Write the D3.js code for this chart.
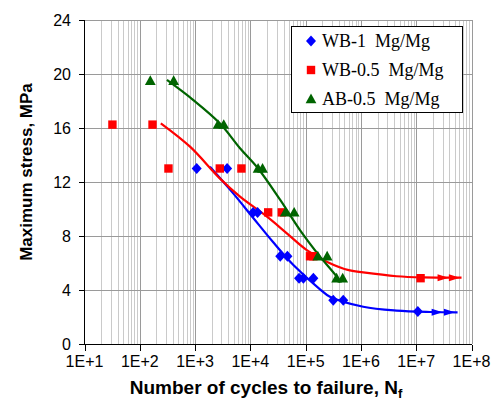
<!DOCTYPE html>
<html>
<head>
<meta charset="utf-8">
<script src="https://cdn.jsdelivr.net/npm/d3@7"></script>
<style>
  html, body { margin: 0; padding: 0; background: #fff; }
  svg { display: block; }
  .tick-label { font-family: "Liberation Sans", Arial, sans-serif; font-size: 16px; fill: #000; }
  .axis-title { font-family: "Liberation Sans", Arial, sans-serif; font-size: 17px; font-weight: bold; fill: #000; }
  .legend-text { font-family: "Liberation Serif", "Times New Roman", serif; font-size: 18px; fill: #000; white-space: pre; }
</style>
</head>
<body>
<svg id="chart" width="499" height="409"></svg>
<script>
(function () {
  'use strict';

  /* ──────────────────────────────────────────────────────────────
   * DONNÉES
   * ────────────────────────────────────────────────────────────── */
  var xTicks = [1e1, 1e2, 1e3, 1e4, 1e5, 1e6, 1e7, 1e8];
  var xTickLabels = ['1E+1', '1E+2', '1E+3', '1E+4', '1E+5', '1E+6', '1E+7', '1E+8'];
  var yTicks = [0, 4, 8, 12, 16, 20, 24];

  var seriesNames = ['WB-1  Mg/Mg', 'WB-0.5  Mg/Mg', 'AB-0.5  Mg/Mg'];

  // WB-1 (losanges bleus)
  var wb1N = [1.07e3, 3.8e3, 1.12e4, 1.35e4, 3.47e4, 4.68e4, 7.6e4, 9.1e4, 1.38e5, 3.16e5, 4.79e5, 1.07e7];
  var wb1S = [13, 13, 9.75, 9.75, 6.5, 6.5, 4.875, 4.875, 4.875, 3.25, 3.25, 2.4];

  // WB-0.5 (carrés rouges)
  var wb05N = [3.2e1, 1.7e2, 3.3e2, 2.8e3, 6.9e3, 2.1e4, 3.7e4, 1.2e5, 1.38e5, 1.2e7];
  var wb05S = [16.25, 16.25, 13, 13, 13, 9.75, 9.75, 6.5, 6.5, 4.875];

  // AB-0.5 (triangles verts)
  var ab05N = [1.55e2, 4.1e2, 2.6e3, 3.3e3, 1.38e4, 1.66e4, 4.27e4, 6.2e4, 1.66e5, 2.45e5, 3.63e5, 4.68e5];
  var ab05S = [19.5, 19.5, 16.25, 16.25, 13, 13, 9.75, 9.75, 6.5, 6.5, 4.875, 4.875];

  // Courbes de tendance
  var wb1FitN = [1.86e3, 4.9e3, 1.12e4, 2.57e4, 6.0e4, 1.82e5, 2.75e5, 1.1e6, 4.4e6, 1.78e7, 5.6e7];
  var wb1FitS = [13.13, 11.16, 9.35, 7.55, 5.85, 4.05, 3.5, 2.76, 2.47, 2.37, 2.35];

  var wb05FitN = [2.4e2, 8.1e2, 2.8e3, 6.5e3, 2.0e4, 4.57e4, 1.05e5, 2.4e5, 6.3e5, 1.1e6, 4.4e6, 1.32e7, 6.6e7];
  var wb05FitS = [16.35, 14.62, 12.27, 10.91, 9.43, 8.2, 6.96, 6.1, 5.45, 5.3, 5.02, 4.93, 4.91];

  var ab05FitN = [3.1e2, 9.3e2, 2.8e3, 6.5e3, 1.38e4, 3.47e4, 7.9e4, 1.82e5, 3.63e5, 4.17e5];
  var ab05FitS = [19.56, 18.07, 16.35, 14.5, 13.0, 10.67, 8.44, 6.47, 4.99, 4.55];

  // Flèches "run-out"
  var wb1ArrowN = [2.34e7, 3.9e7];
  var wb05ArrowN = [3.0e7, 4.8e7];

  var colors = ['#0000ff', '#ff0000', '#006400'];

  /* ──────────────────────────────────────────────────────────────
   * ÉCHELLES
   * ────────────────────────────────────────────────────────────── */
  var svg = d3.select('#chart');
  var x = d3.scaleLog().domain([1e1, 1e8]).range([84.5, 471.5]);
  var y = d3.scaleLinear().domain([0, 24]).range([344, 20]);

  function zip(a, b) {
    return a.map(function (v, i) { return [v, b[i]]; });
  }

  /* ──────────────────────────────────────────────────────────────
   * GRILLE
   * ────────────────────────────────────────────────────────────── */
  var minor = [];
  for (var d = 1; d < 8; d++) {
    for (var k = 2; k <= 9; k++) minor.push(k * Math.pow(10, d));
  }
  var grid = svg.append('g').attr('shape-rendering', 'crispEdges');
  grid.selectAll('line.minor').data(minor).enter().append('line')
    .attr('class', 'minor')
    .attr('x1', function (v) { return Math.round(x(v)) + 0.5; })
    .attr('x2', function (v) { return Math.round(x(v)) + 0.5; })
    .attr('y1', y(24)).attr('y2', y(0))
    .attr('stroke', '#cacaca').attr('stroke-width', 1);
  grid.selectAll('line.vmajor').data(xTicks.slice(1)).enter().append('line')
    .attr('class', 'vmajor')
    .attr('x1', function (v) { return Math.round(x(v)) + 0.5; })
    .attr('x2', function (v) { return Math.round(x(v)) + 0.5; })
    .attr('y1', y(24)).attr('y2', y(0))
    .attr('stroke', '#9a9a9a').attr('stroke-width', 1);
  grid.selectAll('line.hmajor').data(yTicks.slice(1)).enter().append('line')
    .attr('class', 'hmajor')
    .attr('x1', x(1e1)).attr('x2', x(1e8))
    .attr('y1', function (v) { return Math.round(y(v)) + 0.5; })
    .attr('y2', function (v) { return Math.round(y(v)) + 0.5; })
    .attr('stroke', '#9a9a9a').attr('stroke-width', 1);

  /* ──────────────────────────────────────────────────────────────
   * AXES
   * ────────────────────────────────────────────────────────────── */
  var axes = svg.append('g').attr('shape-rendering', 'crispEdges');
  axes.append('line')
    .attr('x1', 84.5).attr('x2', 84.5).attr('y1', y(24)).attr('y2', y(0) + 0.5)
    .attr('stroke', '#000');
  axes.append('line')
    .attr('x1', 84).attr('x2', x(1e8)).attr('y1', 344.5).attr('y2', 344.5)
    .attr('stroke', '#000');
  axes.selectAll('line.ytick').data(yTicks).enter().append('line')
    .attr('x1', 79).attr('x2', 84.5)
    .attr('y1', function (v) { return Math.round(y(v)) + 0.5; })
    .attr('y2', function (v) { return Math.round(y(v)) + 0.5; })
    .attr('stroke', '#000');
  axes.selectAll('line.xtick').data(xTicks).enter().append('line')
    .attr('x1', function (v) { return Math.round(x(v)) + 0.5; })
    .attr('x2', function (v) { return Math.round(x(v)) + 0.5; })
    .attr('y1', 344.5).attr('y2', 351)
    .attr('stroke', '#000');

  svg.selectAll('text.ylab').data(yTicks).enter().append('text')
    .attr('class', 'tick-label')
    .attr('x', 71).attr('y', function (v) { return y(v) + 6; })
    .attr('text-anchor', 'end')
    .text(function (v) { return v; });
  svg.selectAll('text.xlab').data(xTicks).enter().append('text')
    .attr('class', 'tick-label')
    .attr('x', function (v) { return x(v); }).attr('y', 367)
    .attr('text-anchor', 'middle')
    .text(function (v, i) { return xTickLabels[i]; });

  var xt = svg.append('text').attr('class', 'axis-title')
    .attr('x', 266).attr('y', 394).attr('text-anchor', 'middle')
    .style('font-size', '19px');
  xt.append('tspan').text('Number of cycles to failure, N');
  xt.append('tspan').attr('dy', 4).attr('font-size', '13px').text('f');

  svg.append('text').attr('class', 'axis-title')
    .attr('transform', 'translate(32,172) rotate(-90)')
    .attr('text-anchor', 'middle')
    .text('Maximum stress, MPa');

  /* ──────────────────────────────────────────────────────────────
   * COURBES DE TENDANCE
   * ────────────────────────────────────────────────────────────── */
  var line = d3.line()
    .x(function (p) { return x(p[0]); })
    .y(function (p) { return y(p[1]); })
    .curve(d3.curveCatmullRom.alpha(0.5));

  var fits = [zip(wb1FitN, wb1FitS), zip(wb05FitN, wb05FitS), zip(ab05FitN, ab05FitS)];
  svg.append('g').selectAll('path').data(fits).enter().append('path')
    .attr('d', line)
    .attr('fill', 'none')
    .attr('stroke', function (f, i) { return colors[i]; })
    .attr('stroke-width', 2.2);

  // flèches (essais non rompus)
  var arrows = [
    { n: wb1ArrowN, s: wb1FitS[wb1FitS.length - 1], c: colors[0] },
    { n: wb05ArrowN, s: wb05FitS[wb05FitS.length - 1], c: colors[1] }
  ];
  arrows.forEach(function (a) {
    svg.append('g').selectAll('path').data(a.n).enter().append('path')
      .attr('transform', function (v) { return 'translate(' + x(v) + ',' + y(a.s) + ')'; })
      .attr('d', 'M-5,-3.5L6,0L-5,3.5Z')
      .attr('fill', a.c);
  });

  /* ──────────────────────────────────────────────────────────────
   * POINTS
   * ────────────────────────────────────────────────────────────── */
  var shapes = [
    'M0,-5.5L5,0L0,5.5L-5,0Z',
    'M-4.2,-4.2H4.2V4.2H-4.2Z',
    'M0,-5.5L5.4,4.2L-5.4,4.2Z'
  ];
  var sets = [zip(wb1N, wb1S), zip(wb05N, wb05S), zip(ab05N, ab05S)];
  sets.forEach(function (pts, i) {
    svg.append('g').selectAll('path').data(pts).enter().append('path')
      .attr('transform', function (p) { return 'translate(' + x(p[0]) + ',' + y(p[1]) + ')'; })
      .attr('d', shapes[i])
      .attr('fill', colors[i]);
  });

  /* ──────────────────────────────────────────────────────────────
   * LÉGENDE
   * ────────────────────────────────────────────────────────────── */
  var legend = svg.append('g');
  legend.append('rect')
    .attr('x', 291.5).attr('y', 26.5).attr('width', 171).attr('height', 86)
    .attr('fill', '#fff').attr('stroke', '#000').attr('stroke-width', 1)
    .attr('shape-rendering', 'crispEdges');
  var rows = legend.selectAll('g.row').data(seriesNames).enter().append('g')
    .attr('transform', function (s, i) { return 'translate(311,' + (41 + i * 29) + ')'; });
  rows.append('path')
    .attr('d', function (s, i) { return shapes[i]; })
    .attr('fill', function (s, i) { return colors[i]; });
  rows.append('text')
    .attr('class', 'legend-text')
    .attr('x', 11).attr('y', 6)
    .text(function (s) { return s; });

})();
</script>
</body>
</html>
